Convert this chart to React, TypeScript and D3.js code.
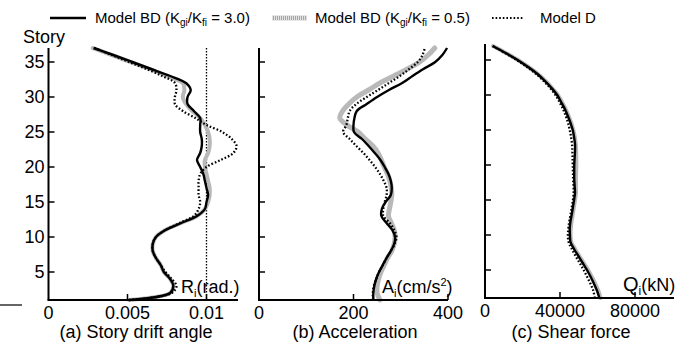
import React from "react";
import * as d3 from "d3";

// Stories 1..37 (bottom to top)
const stories = d3.range(1, 38);

// (a) Story drift angle (rad), index 0 = story 1
const driftBD30 = [0.0051, 0.0077, 0.0079, 0.0077, 0.0073, 0.0071, 0.0068, 0.0066, 0.0066, 0.0068, 0.0074, 0.0084, 0.0094, 0.0099, 0.0100, 0.0101, 0.0100, 0.0099, 0.0098, 0.0096, 0.0094, 0.0096, 0.0097, 0.0097, 0.0096, 0.0096, 0.0096, 0.0092, 0.0088, 0.0088, 0.0090, 0.0087, 0.0077, 0.0065, 0.0053, 0.0041, 0.00285];
const driftBD05 = [0.0051, 0.0077, 0.0079, 0.0077, 0.0073, 0.0071, 0.0068, 0.0066, 0.0066, 0.0068, 0.0074, 0.0084, 0.0094, 0.0099, 0.0101, 0.0102, 0.0102, 0.0101, 0.0100, 0.0099, 0.0099, 0.0101, 0.0102, 0.0102, 0.0101, 0.0099, 0.0096, 0.0091, 0.0087, 0.0085, 0.0086, 0.0085, 0.0075, 0.0064, 0.0052, 0.0040, 0.0028];
const driftD = [0.0051, 0.0078, 0.0081, 0.0078, 0.0074, 0.0071, 0.0068, 0.0066, 0.0066, 0.0068, 0.0074, 0.0083, 0.0092, 0.0095, 0.0096, 0.0095, 0.0095, 0.0095, 0.0096, 0.0100, 0.0109, 0.0117, 0.0119, 0.0116, 0.0110, 0.0100, 0.0093, 0.0085, 0.0080, 0.0080, 0.0081, 0.0080, 0.0072, 0.0062, 0.0051, 0.0040, 0.0029];

// (b) Acceleration (cm/s2)
const accBD30 = [242, 242, 244, 248, 254, 262, 270, 279, 286, 288, 282, 270, 259, 260, 268, 279, 281, 279, 274, 266, 257, 245, 232, 218, 201, 200, 202, 207, 228, 250, 275, 303, 325, 348, 373, 388, 398];
const accBD05 = [256, 250, 250, 253, 258, 265, 272, 281, 286, 288, 286, 280, 274, 276, 279, 281, 280, 277, 272, 265, 259, 252, 241, 225, 210, 186, 171, 177, 190, 207, 232, 256, 285, 314, 340, 358, 372];
const accD = [241, 241, 243, 248, 254, 262, 270, 279, 287, 291, 286, 277, 263, 263, 266, 270, 270, 264, 256, 246, 234, 221, 206, 192, 178, 185, 188, 192, 206, 228, 252, 275, 298, 318, 336, 346, 351];

// (c) Shear force (kN)
const shearBD30 = [61000, 59800, 58200, 56400, 54400, 52100, 49800, 47500, 45600, 45300, 45200, 45600, 46300, 46900, 47500, 48000, 47800, 47600, 47600, 47600, 47800, 48000, 48000, 47500, 46800, 45600, 44200, 42600, 40600, 38500, 35500, 32000, 28000, 23000, 17400, 11000, 4100];
const shearBD05 = [61600, 60500, 58900, 57000, 55000, 52700, 50300, 48000, 46000, 45600, 45800, 46200, 46800, 47400, 48000, 48500, 48500, 48500, 48600, 48700, 48700, 48600, 48400, 47900, 47100, 46000, 44600, 43000, 41000, 38800, 35800, 32300, 28200, 23200, 17600, 11200, 4300];
const shearD = [58500, 57800, 56300, 54500, 52600, 50500, 48300, 46300, 44600, 44200, 44500, 45000, 45700, 46300, 46900, 47300, 47200, 47000, 46900, 46800, 46700, 46600, 46400, 45900, 45200, 44300, 43100, 41600, 39700, 37600, 34700, 31300, 27300, 22400, 16900, 10700, 4100];

const storyTicks = [5, 10, 15, 20, 25, 30, 35];
const driftTicks = [0, 0.005, 0.01];
const driftTickLabels = ["0", "0.005", "0.01"];
const accTicks = [0, 200, 400];
const accTickLabels = ["0", "200", "400"];
const shearTicks = [0, 40000, 80000];
const shearTickLabels = ["0", "40000", "80000"];

const legendLabels = ["Model BD (K", "Model BD (K", "Model D"];
const panelTitles = ["(a) Story drift angle", "(b) Acceleration", "(c) Shear force"];

const FONT = "'Liberation Sans', Arial, Helvetica, sans-serif";
const GRAY = "#b9b9b9";
const FS = 18;

type Panel = {
  x: d3.ScaleLinear<number, number>;
  y: d3.ScaleLinear<number, number>;
  ticks: number[];
  tickLabels: string[];
  series: number[][];
  xEnd: number;
  yTop: number;
  title: string;
  titleX: number;
  showStoryLabels: boolean;
  grayWidth: number;
};

function lineFor(p: Panel, vals: number[]) {
  const gen = d3
    .line<number>()
    .x((v) => p.x(v))
    .y((_, i) => p.y(stories[i]))
    .curve(d3.curveCatmullRom.alpha(0.5));
  return gen(vals) || "";
}

function PanelView({ p }: { p: Panel }) {
  const x0 = p.x(0);
  const yb = p.y(1);
  const [bd30, bd05, dm] = p.series;
  return (
    <g>
      <path d={lineFor(p, bd05)} fill="none" stroke={GRAY} strokeWidth={p.grayWidth} strokeLinejoin="round" strokeLinecap="round" />
      <path d={lineFor(p, dm)} fill="none" stroke="#000" strokeWidth={2.3} strokeDasharray="1.6 2" />
      <path d={lineFor(p, bd30)} fill="none" stroke="#000" strokeWidth={2.4} strokeLinejoin="round" />
      <line x1={x0} x2={x0} y1={p.yTop} y2={yb} stroke="#000" strokeWidth={2} />
      <line x1={x0 - 1} x2={p.xEnd} y1={yb} y2={yb} stroke="#000" strokeWidth={2} />
      {storyTicks.map((s) => (
        <g key={s}>
          <line x1={x0} x2={x0 + 6} y1={p.y(s)} y2={p.y(s)} stroke="#000" strokeWidth={1.5} />
          {p.showStoryLabels && (
            <text x={x0 - 4} y={p.y(s)} dy="0.36em" textAnchor="end" fontSize={FS} fontFamily={FONT}>
              {s}
            </text>
          )}
        </g>
      ))}
      {p.ticks.map((t, i) => (
        <g key={t}>
          {t !== 0 && <line x1={p.x(t)} x2={p.x(t)} y1={yb} y2={yb - 6} stroke="#000" strokeWidth={1.5} />}
          <text x={p.x(t)} y={yb + 18.5} textAnchor="middle" fontSize={FS} fontFamily={FONT}>
            {p.tickLabels[i]}
          </text>
        </g>
      ))}
      <text x={p.titleX} y={338} textAnchor="middle" fontSize={FS} fontFamily={FONT}>
        {p.title}
      </text>
    </g>
  );
}

export default function App() {
  const yA = d3.scaleLinear().domain([1, 37]).range([300, 48]);
  const yC = d3.scaleLinear().domain([1, 37]).range([298, 46]);
  const pa: Panel = {
    x: d3.scaleLinear().domain([0, 0.01]).range([48.5, 206.5]),
    y: yA,
    ticks: driftTicks,
    tickLabels: driftTickLabels,
    series: [driftBD30, driftBD05, driftD],
    xEnd: 238,
    yTop: 48,
    title: panelTitles[0],
    titleX: 136,
    showStoryLabels: true,
    grayWidth: 4,
  };
  const pb: Panel = {
    x: d3.scaleLinear().domain([0, 400]).range([259, 448]),
    y: yA,
    ticks: accTicks,
    tickLabels: accTickLabels,
    series: [accBD30, accBD05, accD],
    xEnd: 448,
    yTop: 48,
    title: panelTitles[1],
    titleX: 355,
    showStoryLabels: false,
    grayWidth: 5,
  };
  const pc: Panel = {
    x: d3.scaleLinear().domain([0, 80000]).range([485, 635]),
    y: yC,
    ticks: shearTicks,
    tickLabels: shearTickLabels,
    series: [shearBD30, shearBD05, shearD],
    xEnd: 674,
    yTop: 44,
    title: panelTitles[2],
    titleX: 571,
    showStoryLabels: false,
    grayWidth: 4,
  };

  const subStyle = { fontSize: 10 };
  return (
    <svg width={690} height={350} style={{ position: "absolute", left: 0, top: 0, background: "#fff" }}>
      <rect width={690} height={350} fill="#fff" />
      <g fontFamily={FONT} fontSize={15}>
        <line x1={50} x2={86} y1={18} y2={18} stroke="#000" strokeWidth={2.5} />
        <text x={95} y={23}>
          {legendLabels[0]}
          <tspan dy={3} style={subStyle}>gi</tspan>
          <tspan dy={-3}>/K</tspan>
          <tspan dy={3} style={subStyle}>fi</tspan>
          <tspan dy={-3}> = 3.0)</tspan>
        </text>
        <line x1={272} x2={307} y1={18} y2={18} stroke="#a8a8a8" strokeWidth={4.5} />
        <line x1={272} x2={307} y1={18} y2={18} stroke="#e0e0e0" strokeWidth={4.5} strokeDasharray="1 1" />
        <text x={315} y={23}>
          {legendLabels[1]}
          <tspan dy={3} style={subStyle}>gi</tspan>
          <tspan dy={-3}>/K</tspan>
          <tspan dy={3} style={subStyle}>fi</tspan>
          <tspan dy={-3}> = 0.5)</tspan>
        </text>
        <line x1={492} x2={524} y1={18} y2={18} stroke="#000" strokeWidth={2.2} strokeDasharray="1.6 2" />
        <text x={540} y={23}>{legendLabels[2]}</text>
      </g>
      <text x={23} y={43} fontSize={FS} fontFamily={FONT}>Story</text>
      <line x1={0} x2={22} y1={305} y2={305} stroke="#000" strokeWidth={1.2} />
      <line x1={pa.x(0.01)} x2={pa.x(0.01)} y1={yA(37)} y2={yA(1)} stroke="#000" strokeWidth={1.3} strokeDasharray="1.5 1.5" />
      <PanelView p={pa} />
      <PanelView p={pb} />
      <PanelView p={pc} />
      <g fontFamily={FONT} fontSize={FS}>
        <text x={181} y={293}>
          R<tspan dy={4} fontSize={11}>i</tspan>
          <tspan dy={-4}>(rad.)</tspan>
        </text>
        <text x={382} y={293}>
          A<tspan dy={4} fontSize={11}>i</tspan>
          <tspan dy={-4}>(cm/s</tspan>
          <tspan dy={-7} fontSize={11}>2</tspan>
          <tspan dy={7}>)</tspan>
        </text>
        <text x={623} y={291}>
          <tspan fontSize={20}>Q</tspan>
          <tspan dy={4} fontSize={12}>i</tspan>
          <tspan dy={-4}>(kN)</tspan>
        </text>
      </g>
    </svg>
  );
}
